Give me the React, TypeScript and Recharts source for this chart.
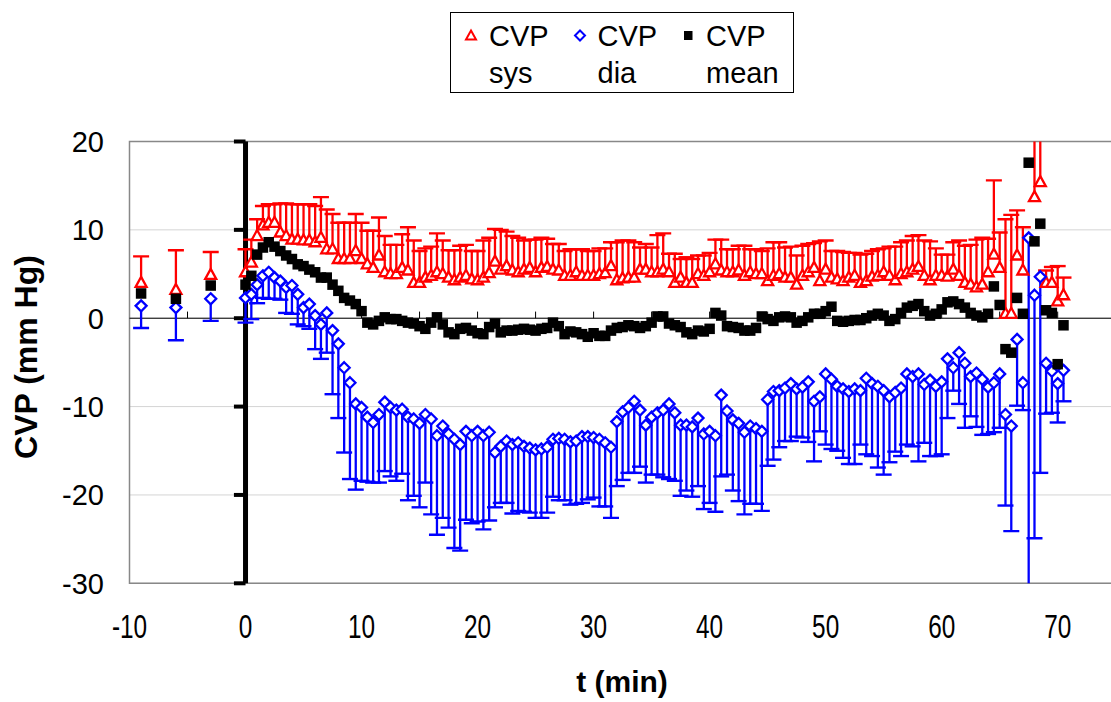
import React from "react";
import {
  ScatterChart,
  Scatter,
  XAxis,
  YAxis,
  CartesianGrid,
  ErrorBar,
  ReferenceLine,
  ReferenceArea,
  Legend,
} from "recharts";

const FONT = '"Liberation Sans", Arial, sans-serif';
const RED = "#FF0000";
const BLUE = "#0000FF";

// minutes: three baseline readings, then one every 30 s
const time = [
  -9, -6, -3,
  0, 0.5, 1, 1.5, 2, 2.5, 3, 3.5, 4, 4.5, 5, 5.5, 6, 6.5, 7, 7.5, 8, 8.5, 9, 9.5,
  10, 10.5, 11, 11.5, 12, 12.5, 13, 13.5, 14, 14.5, 15, 15.5, 16, 16.5, 17, 17.5, 18, 18.5, 19, 19.5,
  20, 20.5, 21, 21.5, 22, 22.5, 23, 23.5, 24, 24.5, 25, 25.5, 26, 26.5, 27, 27.5, 28, 28.5, 29, 29.5,
  30, 30.5, 31, 31.5, 32, 32.5, 33, 33.5, 34, 34.5, 35, 35.5, 36, 36.5, 37, 37.5, 38, 38.5, 39, 39.5,
  40, 40.5, 41, 41.5, 42, 42.5, 43, 43.5, 44, 44.5, 45, 45.5, 46, 46.5, 47, 47.5, 48, 48.5, 49, 49.5,
  50, 50.5, 51, 51.5, 52, 52.5, 53, 53.5, 54, 54.5, 55, 55.5, 56, 56.5, 57, 57.5, 58, 58.5, 59, 59.5,
  60, 60.5, 61, 61.5, 62, 62.5, 63, 63.5, 64, 64.5, 65, 65.5, 66, 66.5, 67, 67.5, 68, 68.5, 69, 69.5,
  70, 70.5,
];

// CVP sys (mm Hg) and its upper error
const sys = [
  4.0, 3.2, 4.9,
  5.2, 6.3, 9.3, 10.5, 10.8, 10.8, 9.7, 9.3, 8.9, 8.9, 8.8, 8.8, 8.6, 9.1, 7.8, 7.8, 6.7, 6.7, 6.7, 7.6, 6.7, 6.1, 5.7, 7.1,
  5.2, 5.0, 5.0, 5.7, 5.4, 4.0, 4.0, 4.6, 4.8, 5.2, 5.0, 4.6, 4.3, 4.6, 4.8, 4.4, 4.3, 4.6, 5.1, 6.4, 5.5, 5.9, 5.4, 5.2,
  5.5, 5.7, 5.2, 5.7, 5.8, 5.5, 5.4, 4.8, 4.8, 5.2, 4.8, 4.8, 4.8, 5.0, 5.1, 5.9, 4.3, 4.5, 4.6, 4.6, 5.5, 5.5, 5.2, 5.2,
  5.5, 5.2, 4.0, 4.6, 4.0, 4.0, 5.0, 4.8, 5.2, 6.1, 5.4, 5.2, 5.2, 5.4, 4.8, 5.2, 5.0, 5.0, 4.2, 4.8, 5.0, 4.6, 4.6, 3.8,
  4.8, 5.2, 5.7, 4.2, 5.5, 4.6, 4.4, 4.2, 4.6, 4.8, 4.0, 4.2, 4.7, 4.8, 5.2, 4.8, 4.3, 5.0, 5.2, 5.5, 5.8, 4.8, 4.3,
  4.8, 4.8, 4.7, 5.5, 4.8, 4.0, 3.8, 3.5, 3.8, 5.2, 7.2, 5.7, 0.5, 0.5, 7.1, 5.4, 23.0, 13.7, 15.4, 4.0, 4.0, 1.9, 2.6,
];
const sysErr = [
  3.0, 4.5, 2.6,
  2.6, 2.6, 1.9, 2.2, 2.1, 2.1, 3.3, 3.7, 4.0, 4.0, 4.1, 4.1, 4.1, 4.6, 4.5, 4.0, 4.1, 4.1, 4.1, 4.2, 4.1, 3.8, 4.2, 4.3,
  4.1, 3.3, 3.3, 3.8, 4.9, 4.8, 3.6, 3.3, 3.3, 4.4, 3.8, 3.1, 3.4, 3.6, 3.5, 3.2, 3.3, 4.2, 4.0, 3.7, 4.5, 3.9, 3.9, 3.9,
  3.3, 3.2, 3.7, 3.4, 3.2, 2.9, 3.0, 2.8, 3.0, 2.6, 3.0, 2.8, 2.8, 2.9, 2.8, 2.7, 4.3, 4.3, 4.2, 4.0, 2.5, 2.9, 2.8, 4.2,
  4.1, 2.1, 3.3, 2.1, 2.9, 2.7, 2.1, 2.3, 2.2, 2.8, 3.5, 2.6, 2.6, 2.8, 3.4, 2.6, 2.8, 2.6, 3.7, 3.8, 3.6, 3.4, 3.5, 3.3,
  3.4, 3.2, 2.8, 4.5, 3.3, 3.0, 3.2, 3.3, 2.8, 2.6, 3.2, 3.1, 2.9, 3.0, 2.7, 3.3, 3.8, 3.6, 3.6, 3.8, 3.6, 4.0, 4.4,
  3.1, 2.4, 2.5, 3.1, 4.0, 4.2, 4.5, 5.4, 5.3, 3.8, 8.4, 4.0, 10.7, 11.2, 5.1, 4.9, 5.0, 10.0, 8.0, 1.4, 1.8, 4.0, 2.0,
];

// CVP dia (mm Hg) and its lower error
const dia = [
  1.4, 1.2, 2.2,
  2.3, 2.7, 3.8, 4.8, 5.2, 4.6, 4.2, 3.5, 3.7, 2.7, 1.2, 1.6, 0.3, -0.7, 0.6, -1.4, -2.9, -5.6, -7.3, -9.7, -10.1, -11.2, -11.8, -10.9,
  -9.5, -10.1, -10.4, -10.3, -11.2, -11.4, -11.9, -10.9, -11.4, -13.3, -12.2, -13.1, -13.7, -14.3, -12.8, -13.3, -12.8, -13.3, -12.9, -15.2, -14.5, -13.9, -14.3, -14.1,
  -14.5, -14.7, -14.9, -14.8, -14.6, -13.7, -13.6, -13.7, -14.0, -13.9, -13.4, -13.4, -13.5, -13.7, -14.1, -14.6, -11.7, -10.6, -10.1, -9.4, -10.4, -12.1, -11.2, -10.7,
  -10.4, -9.7, -10.7, -12.1, -12.1, -12.3, -11.3, -13.1, -12.8, -13.3, -8.7, -10.5, -11.5, -11.9, -12.9, -12.2, -12.5, -12.8, -9.2, -8.3, -8.2, -7.9, -7.4, -8.0,
  -7.8, -7.2, -9.4, -8.9, -6.3, -6.9, -7.7, -8.0, -8.3, -8.0, -8.2, -6.8, -7.4, -7.7, -8.2, -8.9, -8.4, -7.9, -6.3, -6.6, -6.3, -7.5, -7.0,
  -7.7, -7.2, -4.6, -5.6, -3.9, -5.1, -6.6, -6.2, -6.9, -7.8, -7.3, -6.3, -10.9, -12.2, -2.4, -7.3, 9.1, 2.6, 4.7, -5.1, -6.0, -7.4, -5.9,
];
const diaErr = [
  2.5, 3.7, 2.5,
  2.8, 2.8, 2.1, 2.5, 3.0, 2.4, 2.1, 2.9, 3.2, 3.4, 2.1, 2.8, 3.8, 3.9, 4.5, 7.2, 8.4, 9.6, 10.9, 9.7, 8.3, 7.3, 6.8, 7.7,
  7.8, 7.8, 8.0, 7.3, 9.4, 8.7, 9.5, 7.7, 10.8, 11.2, 10.4, 10.6, 12.3, 12.0, 10.0, 9.9, 10.2, 10.6, 10.0, 6.2, 6.4, 7.0, 7.8, 7.7,
  7.4, 7.3, 7.7, 7.8, 7.4, 6.5, 7.0, 6.9, 7.1, 7.1, 7.5, 7.1, 6.8, 7.6, 7.2, 8.0, 7.3, 7.7, 7.4, 8.1, 6.4, 6.5, 6.5, 7.0,
  7.6, 8.5, 7.7, 8.0, 7.4, 7.9, 7.7, 8.5, 8.1, 8.6, 9.2, 7.2, 8.0, 8.8, 9.3, 8.8, 8.5, 9.0, 7.5, 7.7, 6.4, 6.0, 6.5, 5.4,
  5.7, 6.8, 6.8, 3.9, 8.0, 7.9, 7.3, 7.8, 8.2, 8.5, 6.1, 8.6, 8.2, 9.2, 9.5, 7.4, 6.7, 7.7, 8.0, 7.9, 9.9, 6.6, 8.6,
  7.9, 8.2, 6.7, 2.6, 5.8, 7.3, 4.5, 6.1, 6.3, 5.3, 5.6, 6.1, 10.3, 11.9, 7.5, 3.1, 45.0, 27.5, 22.2, 5.7, 4.7, 4.4, 3.5,
];

// CVP mean (mm Hg)
const mean = [
  2.8, 2.2, 3.7,
  3.8, 4.8, 7.2, 8.0, 8.6, 8.1, 7.6, 7.1, 6.7, 6.1, 5.9, 5.5, 5.2, 4.6, 4.6, 3.8, 3.1, 2.3, 2.0, 1.6, 0.8, -0.5, -0.7, -0.3,
  0.1, -0.1, -0.1, -0.3, -0.5, -0.6, -0.9, -1.2, -0.5, 0.1, -0.7, -1.6, -1.8, -1.2, -1.1, -1.4, -1.7, -1.8, -1.0, -0.6, -1.6, -1.4, -1.4, -1.3,
  -1.2, -1.3, -1.4, -1.2, -1.1, -0.5, -0.9, -1.8, -1.5, -1.6, -1.8, -2.1, -1.7, -2.0, -2.0, -1.4, -1.1, -1.0, -0.8, -0.9, -1.1, -0.9, -0.5, 0.2,
  0.2, -0.6, -0.8, -1.0, -1.6, -1.8, -1.4, -1.5, -1.2, 0.6, 0.3, -0.9, -1.0, -1.1, -1.4, -1.4, -1.1, 0.2, -0.1, -0.3, 0.1, 0.2, 0.1, -0.5,
  -0.3, 0.1, 0.5, 0.5, 0.8, 1.3, -0.3, -0.4, -0.3, -0.2, -0.2, 0.0, 0.3, 0.5, 0.3, -0.3, -0.1, 0.6, 1.2, 1.4, 1.6, 0.8, 0.3,
  0.5, 1.0, 1.8, 1.9, 1.6, 1.2, 0.6, 0.3, 0.1, 0.5, 3.6, 1.5, -3.5, -3.9, 2.3, 0.5, 17.6, 8.7, 10.7, 0.9, 0.6, -5.2, -0.8,
];

const Y_MIN = -30;
const Y_MAX = 20;
const xTicks = [-10, 0, 10, 20, 30, 40, 50, 60, 70];
const yTicks = [-30, -20, -10, 0, 10, 20];
// small marks on the horizontal axis line at y = 0
const zeroLineTicks = [-5, 0, 5, 10, 15, 20, 25, 30, 35, 40, 45, 50, 55, 60, 65, 70];

// error bars are cut off at the plot edge, like the original
const sysPoints = time.map((t, i) => ({
  t,
  v: sys[i],
  err: [0, Math.max(0, Math.min(sysErr[i], Y_MAX - sys[i]))],
}));
const sysCaps = time.map((t, i) => ({ t, v: sys[i] + sysErr[i] }));
const diaPoints = time.map((t, i) => ({
  t,
  v: dia[i],
  err: [Math.max(0, Math.min(diaErr[i], dia[i] - Y_MIN)), 0],
}));
const diaCaps = time.map((t, i) => ({ t, v: dia[i] - diaErr[i] }));
const meanPoints = time.map((t, i) => ({ t, v: mean[i] }));

const Triangle = (p: any) => (
  <polygon
    points={`${p.cx},${p.cy - 6} ${p.cx + 5.5},${p.cy + 4} ${p.cx - 5.5},${p.cy + 4}`}
    fill="#fff"
    stroke={RED}
    strokeWidth={2.3}
  />
);
const Diamond = (p: any) => (
  <polygon
    points={`${p.cx},${p.cy - 5.5} ${p.cx + 5.5},${p.cy} ${p.cx},${p.cy + 5.5} ${p.cx - 5.5},${p.cy}`}
    fill="#fff"
    stroke={BLUE}
    strokeWidth={2.3}
  />
);
const Square = (p: any) => <rect x={p.cx - 5.25} y={p.cy - 5.25} width={10.5} height={10.5} fill="#000" />;
const capShape = (color: string) => (p: any) => (
  <line x1={p.cx - 8} x2={p.cx + 8} y1={p.cy} y2={p.cy} stroke={color} strokeWidth={2.4} />
);

const XTick = ({ x, y, payload }: any) => (
  <g transform={`translate(${x},${y + 55}) scale(0.84,1.12)`}>
    <text textAnchor="middle" fontSize={29} fontFamily={FONT} fill="#000">
      {payload.value}
    </text>
  </g>
);

const legendItems = [
  { label: ["CVP", "sys"], marker: <polygon points="10,4.5 15,13.5 5,13.5" fill="#fff" stroke={RED} strokeWidth={2} /> },
  { label: ["CVP", "dia"], marker: <polygon points="10,4.5 15,9.5 10,14.5 5,9.5" fill="#fff" stroke={BLUE} strokeWidth={2} /> },
  { label: ["CVP", "mean"], marker: <rect x={6} y={5} width={8.5} height={9} fill="#000" /> },
];

const LegendBox = () => (
  <div
    style={{
      position: "relative",
      width: 342,
      height: 79,
      border: "1px solid #000",
      background: "#fff",
      fontFamily: FONT,
      fontSize: 29,
      lineHeight: "37px",
      color: "#000",
    }}
  >
    {legendItems.map((item, i) => (
      <div key={item.label[1]} style={{ position: "absolute", left: 10 + i * 108.5, top: 5 }}>
        <svg width={20} height={20} style={{ position: "absolute", left: 0, top: 8 }}>
          {item.marker}
        </svg>
        <div style={{ position: "absolute", left: 28, top: 0, whiteSpace: "nowrap" }}>
          {item.label[0]}
          <br />
          {item.label[1]}
        </div>
      </div>
    ))}
  </div>
);

export default function App() {
  return (
    <div
      style={{
        position: "absolute",
        left: 0,
        top: 0,
        width: 1111,
        height: 702,
        overflow: "hidden",
        background: "#fff",
      }}
    >
      <ScatterChart width={1120} height={702} margin={{ top: 141.5, right: 4.3, bottom: 0, left: 0 }}>
        <CartesianGrid vertical={false} stroke="#d4d4d4" strokeWidth={1} />
        <XAxis
          type="number"
          dataKey="t"
          domain={[-10, 75]}
          ticks={xTicks}
          allowDataOverflow
          height={118.7}
          axisLine={false}
          tickLine={false}
          tickSize={0}
          tickMargin={0}
          tick={<XTick />}
          label={{
            content: () => (
              <text x={622} y={691.5} textAnchor="middle" fontSize={30} fontWeight="bold" fontFamily={FONT} fill="#000">
                t (min)
              </text>
            ),
          }}
        />
        <YAxis
          type="number"
          dataKey="v"
          domain={[Y_MIN, Y_MAX]}
          ticks={yTicks}
          allowDataOverflow
          width={129.5}
          axisLine={false}
          tickLine={false}
          tickSize={6}
          tickMargin={19.5}
          tick={{ fontSize: 29, fontFamily: FONT, fill: "#000" }}
          label={{
            content: () => (
              <text
                transform="translate(37,357) rotate(-90)"
                textAnchor="middle"
                fontSize={32}
                fontWeight="bold"
                fontFamily={FONT}
                fill="#000"
              >
                CVP (mm Hg)
              </text>
            ),
          }}
        />
        <ReferenceArea x1={-10} x2={75} y1={Y_MIN} y2={Y_MAX} fill="none" stroke="#888" strokeWidth={1.5} />
        <ReferenceLine y={0} stroke="#000" strokeWidth={1} />
        {zeroLineTicks.map((m) => (
          <ReferenceLine key={`zt${m}`} segment={[{ x: m, y: 0 }, { x: m, y: 0.75 }]} stroke="#000" strokeWidth={1} />
        ))}
        <ReferenceLine x={0} stroke="#000" strokeWidth={5} />
        {yTicks.map((v) => (
          <ReferenceLine key={`yt${v}`} segment={[{ x: -1, y: v }, { x: 0, y: v }]} stroke="#000" strokeWidth={4} />
        ))}
        <Legend
          layout="horizontal"
          verticalAlign="middle"
          align="center"
          content={<LegendBox />}
          wrapperStyle={{ left: 450, top: 11.5, width: 344, height: 81 }}
        />
        <Scatter data={sysCaps} legendType="none" shape={capShape(RED)} isAnimationActive={false} />
        <Scatter name="CVP sys" data={sysPoints} fill={RED} shape={Triangle} isAnimationActive={false}>
          <ErrorBar dataKey="err" direction="y" width={0} stroke={RED} strokeWidth={2.3} isAnimationActive={false} />
        </Scatter>
        <Scatter data={diaCaps} legendType="none" shape={capShape(BLUE)} isAnimationActive={false} />
        <Scatter name="CVP dia" data={diaPoints} fill={BLUE} shape={Diamond} isAnimationActive={false}>
          <ErrorBar dataKey="err" direction="y" width={0} stroke={BLUE} strokeWidth={2.3} isAnimationActive={false} />
        </Scatter>
        <Scatter name="CVP mean" data={meanPoints} fill="#000" shape={Square} isAnimationActive={false} />
      </ScatterChart>
    </div>
  );
}
